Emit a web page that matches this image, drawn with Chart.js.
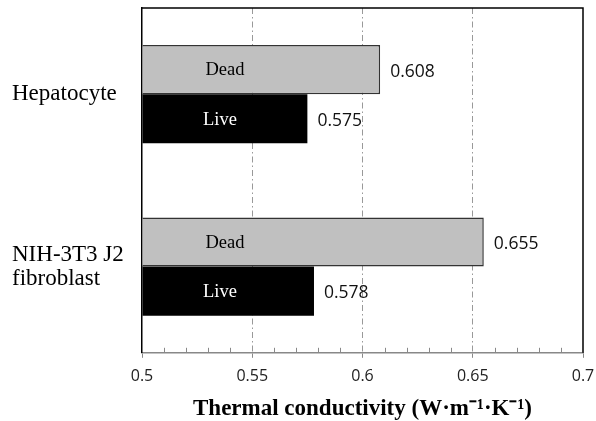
<!DOCTYPE html>
<html>
<head>
<meta charset="utf-8">
<script src="https://cdn.jsdelivr.net/npm/chart.js@4.4.1/dist/chart.umd.min.js"></script>
<style>
    html, body { margin: 0; padding: 0; background: #fff; }
    #wrap { width: 596px; height: 421px; }
</style>
</head>
<body>
<div id="wrap"><canvas id="myChart" width="596" height="421"></canvas></div>
<script>
const cells = [["Hepatocyte"], ["NIH-3T3 J2", "fibroblast"]];
const deadValues = [0.608, 0.655];
const liveValues = [0.575, 0.578];
const seriesNames = ["Dead", "Live"];
const xTicks = [0.5, 0.55, 0.6, 0.65, 0.7];
const minorTicks = [0.51, 0.52, 0.53, 0.54, 0.56, 0.57, 0.58, 0.59, 0.61, 0.62, 0.63, 0.64, 0.66, 0.67, 0.68, 0.69];

window.onload = () => {
    // frame, minor ticks and text on bars
    const extras = {
        id: "extras",
        afterDatasetsDraw(chart) {
            const ctx = chart.ctx;
            const area = chart.chartArea;
            const x = chart.scales.x;

            ctx.save();
            chart.data.datasets.forEach((ds, i) => {
                const meta = chart.getDatasetMeta(i);
                meta.data.forEach((bar, j) => {
                    // series name inside bar
                    ctx.font = "18.5px 'Liberation Serif', serif";
                    ctx.fillStyle = i === 0 ? "#000" : "#fff";
                    ctx.textAlign = "center";
                    ctx.textBaseline = "middle";
                    ctx.fillText(seriesNames[i], area.left + (i === 0 ? 83 : 78), bar.y + 1);
                    // value at the end
                    ctx.font = "17.5px 'Open Sans', sans-serif";
                    ctx.fillStyle = "#111";
                    ctx.textAlign = "left";
                    ctx.fillText(ds.data[j].toFixed(3), bar.x + 10, bar.y + 2);
                });
            });

            // top and right frame
            ctx.strokeStyle = "#000";
            ctx.lineWidth = 1.5;
            ctx.beginPath();
            ctx.moveTo(area.left, area.top);
            ctx.lineTo(area.right, area.top);
            ctx.lineTo(area.right, area.bottom);
            ctx.stroke();

            // minor ticks pointing up
            ctx.strokeStyle = "#888";
            ctx.lineWidth = 1;
            ctx.beginPath();
            minorTicks.forEach(v => {
                const px = Math.round(x.getPixelForValue(v)) + 0.5;
                ctx.moveTo(px, area.bottom);
                ctx.lineTo(px, area.bottom - 5);
            });
            ctx.stroke();
            ctx.restore();
        }
    };

    function createChart() {
        const data = {
            labels: cells,
            datasets: [
                {
                    label: seriesNames[0],
                    data: deadValues,
                    base: 0.5,
                    backgroundColor: "#c0c0c0",
                    borderColor: "#333",
                    borderWidth: 1.5,
                    borderSkipped: "left",
                    barPercentage: 1,
                    categoryPercentage: 0.57,
                },
                {
                    label: seriesNames[1],
                    data: liveValues,
                    base: 0.5,
                    backgroundColor: "#000",
                    borderColor: "#000",
                    borderWidth: 0,
                    barPercentage: 1,
                    categoryPercentage: 0.57,
                },
            ],
        };

        const config = {
            type: "bar",
            data: data,
            plugins: [extras],
            options: {
                indexAxis: "y",
                responsive: false,
                animation: false,
                layout: { padding: { left: 12, right: 13, top: 8, bottom: 0 } },
                plugins: {
                    legend: { display: false },
                    tooltip: { enabled: false },
                },
                scales: {
                    x: {
                        min: 0.5,
                        max: 0.7,
                        afterBuildTicks: (scale) => {
                            scale.ticks = xTicks.map(v => ({ value: v }));
                        },
                        afterFit: (scale) => {
                            scale.paddingLeft = 0;
                            scale.paddingRight = 0;
                        },
                        ticks: {
                            color: "#222",
                            font: { family: "'Open Sans', sans-serif", size: 16 },
                            padding: 9,
                            maxRotation: 0,
                            callback: (v) => String(v),
                        },
                        grid: {
                            color: (c) => (c.tick && (c.tick.value === 0.5 || c.tick.value === 0.7)) ? "rgba(0,0,0,0)" : "#999",
                            lineWidth: 1,
                            tickColor: "#888",
                            tickLength: 5,
                        },
                        border: { color: "#888", width: 1.5, dash: [6, 3, 1.5, 3] },
                        title: {
                            display: true,
                            text: "Thermal conductivity (W·m⁻¹·K⁻¹)",
                            color: "#000",
                            font: { family: "'Liberation Serif', serif", size: 23, weight: "bold", lineHeight: 1.0 },
                            padding: { top: 3, bottom: 0 },
                        },
                    },
                    y: {
                        afterFit: (scale) => {
                            scale.width = 130;
                            scale.paddingTop = 0;
                            scale.paddingBottom = 0;
                        },
                        ticks: {
                            color: "#000",
                            crossAlign: "far",
                            font: { family: "'Liberation Serif', serif", size: 23, lineHeight: 1.05 },
                        },
                        grid: { display: false },
                        border: { color: "#000", width: 1.5 },
                    },
                },
            },
        };

        const myChart = new Chart(document.getElementById("myChart"), config);
    }

    createChart();
};
</script>
</body>
</html>
